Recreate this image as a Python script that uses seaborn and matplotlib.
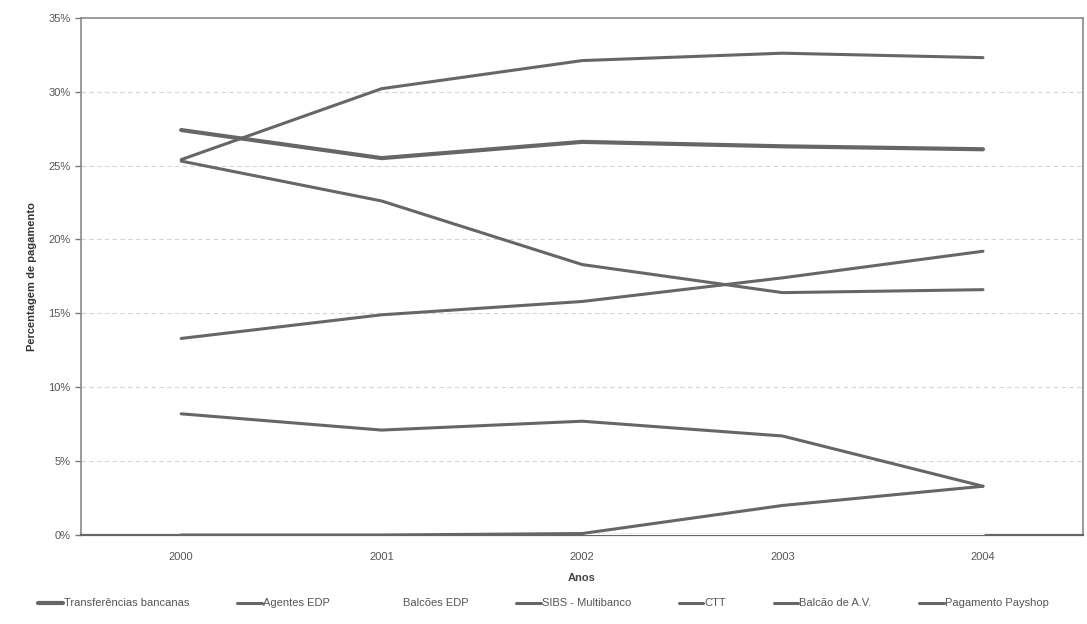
import numpy as np
import pandas as pd
import matplotlib
matplotlib.use("Agg")
import matplotlib.pyplot as plt
import seaborn as sns

anos = [2000, 2001, 2002, 2003, 2004]

transferencias = [27.4, 25.5, 26.6, 26.3, 26.1]
agentes_edp = [25.3, 22.6, 18.3, 16.4, 16.6]
balcoes_edp = [0.0, 0.0, 0.0, 0.0, 0.0]
sibs_multibanco = [25.4, 30.2, 32.1, 32.6, 32.3]
ctt = [8.2, 7.1, 7.7, 6.7, 3.3]
balcao_av = [13.3, 14.9, 15.8, 17.4, 19.2]
payshop = [0.0, 0.0, 0.1, 2.0, 3.3]

series = ["Transferências bancanas", "Agentes EDP", "Balcões EDP", "SIBS - Multibanco",
          "CTT", "Balcão de A.V.", "Pagamento Payshop"]
values = [transferencias, agentes_edp, balcoes_edp, sibs_multibanco, ctt, balcao_av, payshop]

rows = []
for name, vals in zip(series, values):
    for a, v in zip(anos, vals):
        rows.append({"Ano": a, "Valor": v / 100, "Serie": name})
df = pd.DataFrame(rows)

sns.set_style("white")
plt.rcParams['font.family'] = ['Liberation Sans', 'DejaVu Sans']

grey = "#666666"
palette = {s: grey for s in series}
palette["Balcões EDP"] = "#ffffff"

fig = plt.figure(figsize=(10.87, 6.24), dpi=100)
ax = fig.add_axes([0.0745, 0.1426, 0.922, 0.829])

# linhas de grelha (tracejado claro)
for y in np.arange(0.05, 0.35, 0.05):
    ax.axhline(y, color="#d4d4d4", linestyle=(0, (4, 3)), linewidth=0.8, zorder=0)

for name in series:
    sub = df[df.Serie == name]
    sns.lineplot(data=sub, x="Ano", y="Valor", color=palette[name], linewidth=2.2,
                 ax=ax, label=name, zorder=3)

ax.set_xlim(1999.5, 2004.5)
ax.set_ylim(0, 0.35)
ax.set_xticks(anos)
ax.set_xticklabels([str(a) for a in anos])
ax.set_xticks([2000.5, 2001.5, 2002.5, 2003.5], minor=True)
ax.set_yticks(np.arange(0, 0.36, 0.05))
ax.set_yticklabels([f"{int(round(t * 100))}%" for t in np.arange(0, 0.36, 0.05)])

ax.tick_params(axis="x", which="major", length=0, labelsize=8, colors="#555555", pad=12)
ax.tick_params(axis="x", which="minor", length=4, width=1, color="#777777", direction="out")
ax.tick_params(axis="y", length=4, width=1, color="#777777", direction="out",
               labelsize=8, labelcolor="#555555", left=True)

for sp in ax.spines.values():
    sp.set_color("#8a8a8a")
    sp.set_linewidth(1.2)
ax.spines["bottom"].set_color("#666666")
ax.spines["bottom"].set_linewidth(1.6)

ax.set_xlabel("Anos", fontsize=8, fontweight="bold", color="#444444", labelpad=8)
ax.set_ylabel("Percentagem de pagamento", fontsize=8, fontweight="bold", color="#333333", labelpad=8)

handles, labels = ax.get_legend_handles_labels()
ax.get_legend().remove()
for h in handles:
    h.set_color(grey)
handles[0].set_linewidth(3)
handles[2].set_color("#ffffff")
fig.legend(handles, labels, loc="center", bbox_to_anchor=(0.5, 0.033), ncol=7, frameon=False,
           fontsize=8, handlelength=2.2, handletextpad=0.1, columnspacing=4.3,
           labelcolor="#555555")

fig.savefig("out.png", dpi=100, facecolor="white")
